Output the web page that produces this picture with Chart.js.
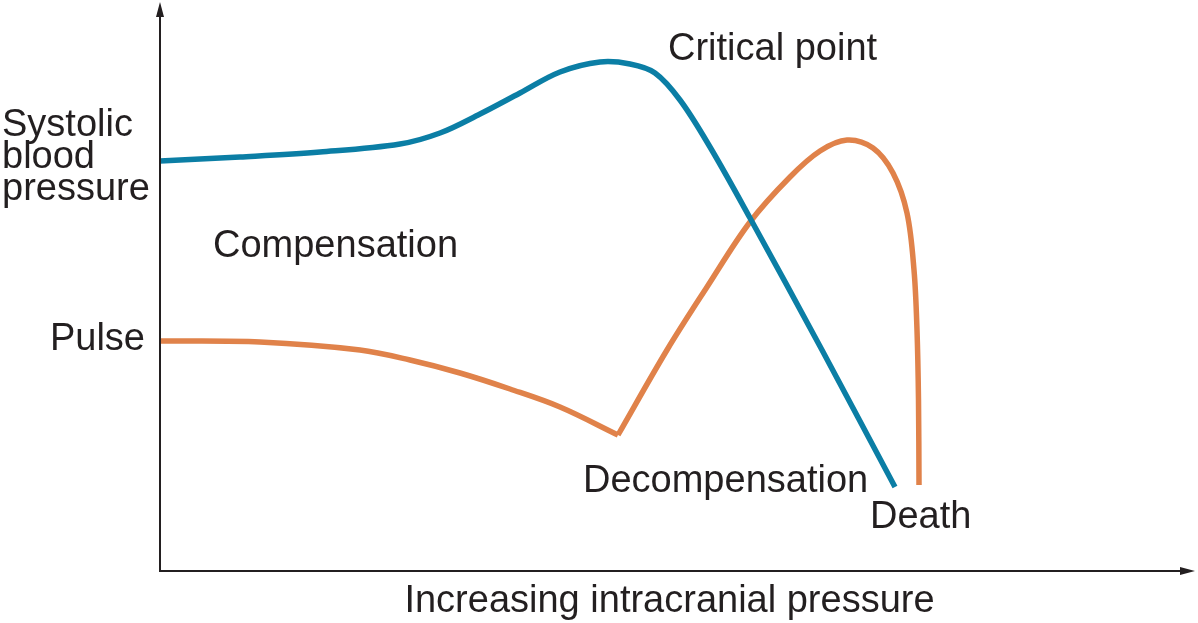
<!DOCTYPE html>
<html>
<head>
<meta charset="utf-8">
<title>Intracranial pressure</title>
<script src="https://cdn.jsdelivr.net/npm/chart.js@4"></script>
<style>
    html, body { margin: 0; padding: 0; background: #ffffff; }
    #wrap { width: 1198px; height: 623px; }
</style>
</head>
<body>
<div id="wrap"><canvas id="icpChart" width="1198" height="623"></canvas></div>
<script>
// Values (x: intracranial pressure, y: level), arbitrary units
const systolicX = [0, 80, 160, 240, 280, 320, 360, 400, 440, 470, 495, 520, 550, 590, 662, 735];
const systolicY = [410, 414, 419, 427, 438, 457, 478, 499, 509, 507, 498, 471, 424, 353, 221, 84];

// Pulse falls during compensation, then turns sharply at decompensation
const pulseCompX = [0, 100, 200, 250, 300, 350, 400, 458];
const pulseCompY = [230, 229, 221, 211, 198, 182, 164, 136];
const pulseDecompX = [458, 507, 547, 590, 630, 660, 687, 713, 733, 747, 754, 757, 758.5, 759];
const pulseDecompY = [136, 221, 284, 349, 394, 420, 431, 423, 398, 358, 301, 241, 171, 86];

const xRange = [0, 1035];
const yRange = [0, 569];

const inkColor = '#231f20';
const systolicColor = '#0b7ea5';
const pulseColor = '#e0824a';
const labelFont = '38px "Liberation Sans", Arial, Helvetica, sans-serif';

// Text labels: [text, x, y, align] in data units
const labels = [
    ['Systolic', -158, 435, 'left'],
    ['blood', -158, 403, 'left'],
    ['pressure', -158, 371, 'left'],
    ['Pulse', -15, 221, 'right'],
    ['Compensation', 53, 314, 'left'],
    ['Critical point', 508, 511, 'left'],
    ['Decompensation', 423, 79, 'left'],
    ['Death', 710, 43, 'left']
];
const xTitle = 'Increasing intracranial pressure';

function toPoints(xs, ys) {
    return xs.map((x, i) => ({ x: x, y: ys[i] }));
}

// Axis lines with arrow heads
const axesPlugin = {
    id: 'axesArrows',
    afterDraw(chart) {
        const ctx = chart.ctx;
        const a = chart.chartArea;
        ctx.save();
        ctx.strokeStyle = inkColor;
        ctx.fillStyle = inkColor;
        ctx.lineWidth = 2;
        ctx.beginPath();
        ctx.moveTo(a.left, a.top + 8);
        ctx.lineTo(a.left, a.bottom);
        ctx.lineTo(a.right - 8, a.bottom);
        ctx.stroke();
        // y arrow
        ctx.beginPath();
        ctx.moveTo(a.left, a.top);
        ctx.lineTo(a.left - 4, a.top + 15);
        ctx.lineTo(a.left + 4, a.top + 15);
        ctx.closePath();
        ctx.fill();
        // x arrow
        ctx.beginPath();
        ctx.moveTo(a.right, a.bottom);
        ctx.lineTo(a.right - 15, a.bottom - 4);
        ctx.lineTo(a.right - 15, a.bottom + 4);
        ctx.closePath();
        ctx.fill();
        ctx.restore();
    }
};

// Annotation text
const textPlugin = {
    id: 'chartText',
    afterDraw(chart) {
        const ctx = chart.ctx;
        const xs = chart.scales.x;
        const ys = chart.scales.y;
        ctx.save();
        ctx.font = labelFont;
        ctx.fillStyle = inkColor;
        ctx.textBaseline = 'alphabetic';
        labels.forEach(l => {
            ctx.textAlign = l[3];
            ctx.fillText(l[0], xs.getPixelForValue(l[1]), ys.getPixelForValue(l[2]));
        });
        ctx.textAlign = 'center';
        ctx.fillText(xTitle, (chart.chartArea.left + chart.chartArea.right) / 2 - 8, chart.chartArea.bottom + 41);
        ctx.restore();
    }
};

const lineStyle = {
    borderWidth: 5.5,
    pointRadius: 0,
    pointHoverRadius: 0,
    fill: false,
    showLine: true,
    tension: 0.35
};

new Chart(document.getElementById('icpChart').getContext('2d'), {
    type: 'scatter',
    data: {
        datasets: [
            Object.assign({
                label: 'Systolic blood pressure',
                data: toPoints(systolicX, systolicY),
                borderColor: systolicColor
            }, lineStyle),
            Object.assign({
                label: 'Pulse',
                data: toPoints(pulseCompX, pulseCompY),
                borderColor: pulseColor
            }, lineStyle),
            Object.assign({
                label: 'Pulse (decompensation)',
                data: toPoints(pulseDecompX, pulseDecompY),
                borderColor: pulseColor
            }, lineStyle)
        ]
    },
    options: {
        responsive: false,
        animation: false,
        layout: { padding: { left: 160, right: 3, top: 2, bottom: 52 } },
        plugins: {
            legend: { display: false },
            tooltip: { enabled: false }
        },
        scales: {
            x: { type: 'linear', min: xRange[0], max: xRange[1], display: false },
            y: { type: 'linear', min: yRange[0], max: yRange[1], display: false }
        }
    },
    plugins: [axesPlugin, textPlugin]
});
</script>
</body>
</html>
